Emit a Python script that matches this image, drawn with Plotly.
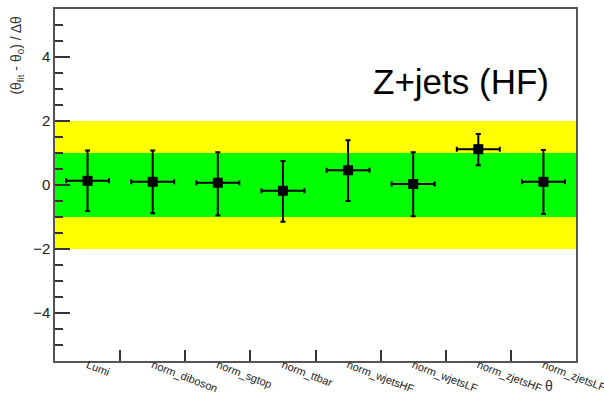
import plotly.graph_objects as go

# ---- data ----
categories = ["Lumi", "norm_diboson", "norm_sgtop", "norm_ttbar",
              "norm_wjetsHF", "norm_wjetsLF", "norm_zjetsHF", "norm_zjetsLF"]
pulls = [0.13, 0.10, 0.07, -0.18, 0.46, 0.03, 1.12, 0.10]
err_up = [0.95, 0.98, 0.95, 0.93, 0.94, 0.99, 0.47, 0.99]
err_down = [0.94, 0.98, 1.02, 0.97, 0.96, 1.01, 0.50, 1.01]
bin_half_width = [0.33] * len(categories)
one_sigma = 1.0
two_sigma = 2.0
label_text = "Z+jets (HF)"

n = len(categories)
centers = [i + 0.5 for i in range(n)]
edges = list(range(1, n))

fig = go.Figure()

# 2 sigma band (yellow)
fig.add_trace(go.Scatter(x=[0, n], y=[-two_sigma, -two_sigma], mode="lines",
                         line=dict(width=0), hoverinfo="skip", showlegend=False))
fig.add_trace(go.Scatter(x=[0, n], y=[two_sigma, two_sigma], mode="lines",
                         line=dict(width=0), fill="tonexty", fillcolor="#FFFF00",
                         hoverinfo="skip", showlegend=False))
# 1 sigma band (green)
fig.add_trace(go.Scatter(x=[0, n], y=[-one_sigma, -one_sigma], mode="lines",
                         line=dict(width=0), hoverinfo="skip", showlegend=False))
fig.add_trace(go.Scatter(x=[0, n], y=[one_sigma, one_sigma], mode="lines",
                         line=dict(width=0), fill="tonexty", fillcolor="#00FF00",
                         hoverinfo="skip", showlegend=False))

# pulls
fig.add_trace(go.Scatter(
    x=centers, y=pulls, mode="markers",
    marker=dict(symbol="square", size=10, color="black"),
    error_y=dict(type="data", symmetric=False, array=err_up, arrayminus=err_down,
                 color="black", thickness=2, width=2.5),
    error_x=dict(type="data", array=bin_half_width, color="black",
                 thickness=2, width=2.5),
    showlegend=False))

fig.update_layout(
    width=604, height=394,
    margin=dict(l=55, r=28, t=9, b=33),
    paper_bgcolor="white", plot_bgcolor="white",
    font=dict(family="Liberation Sans, Arial, sans-serif", color="black"),
    xaxis=dict(
        range=[0, n], tickmode="array", tickvals=centers, ticktext=categories,
        tickangle=21, tickfont=dict(size=11, color="#222"), automargin=False,
        ticklabelstandoff=-8, ticklabeloverflow="allow",
        ticks="inside", ticklen=0, showgrid=False, zeroline=False,
        showline=True, linecolor="#555", linewidth=1.5, mirror=True,
        minor=dict(tickmode="array", tickvals=edges, ticks="inside",
                   ticklen=11, tickwidth=1.5, tickcolor="#333", showgrid=False),
    ),
    yaxis=dict(
        range=[-5.5, 5.5], tickmode="linear", tick0=0, dtick=2, automargin=False,
        ticks="inside", ticklen=15, tickwidth=1.5, tickcolor="#333",
        tickfont=dict(size=15, color="#222"),
        showgrid=False, zeroline=False,
        showline=True, linecolor="#555", linewidth=1.5, mirror=True,
        minor=dict(dtick=0.5, ticks="inside", ticklen=8, tickwidth=1.5,
                   tickcolor="#333", showgrid=False),
    ),
    annotations=[
        dict(text=label_text, xref="paper", yref="paper", x=0.952, y=0.793,
             xanchor="right", yanchor="middle", showarrow=False,
             font=dict(size=35, color="black")),
        dict(text="(θ<sub>fit</sub> - θ<sub>0</sub>) / Δθ", xref="paper", yref="paper",
             x=-0.072, y=0.869, xanchor="center", yanchor="middle", textangle=-90,
             showarrow=False, font=dict(size=14, color="#333")),
        dict(text="θ", xref="paper", yref="paper", x=0.948, y=-0.07,
             xanchor="center", yanchor="middle", showarrow=False,
             font=dict(size=14, color="#333")),
    ],
)

fig.write_html("out.html")
